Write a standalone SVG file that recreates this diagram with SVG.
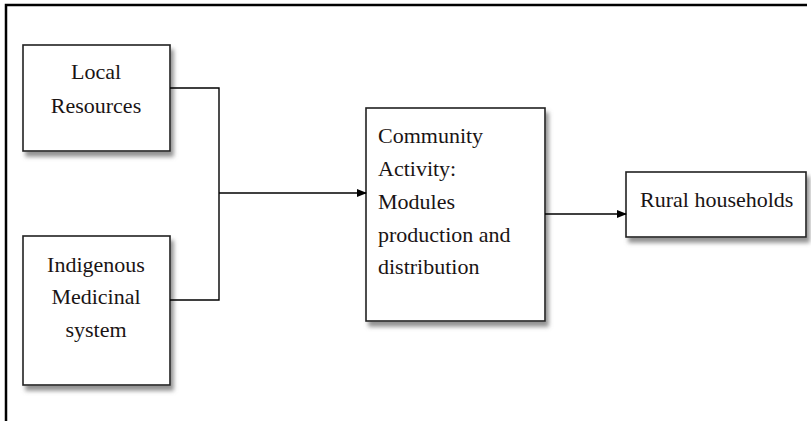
<svg xmlns="http://www.w3.org/2000/svg" width="811" height="421" viewBox="0 0 811 421">
<defs>
<filter id="sh" x="-10%" y="-10%" width="130%" height="130%">
<feDropShadow dx="3" dy="5" stdDeviation="2" flood-color="#777" flood-opacity="0.8"/>
</filter>
<marker id="ah" markerWidth="10" markerHeight="8" refX="9" refY="4" orient="auto" markerUnits="userSpaceOnUse">
<path d="M0,0 L10,4 L0,8 Z" fill="#000"/>
</marker>
</defs>
<style>
.box{fill:#fff;stroke:#222;stroke-width:1.6;filter:url(#sh)}
text{font-family:'Liberation Serif','Times New Roman','DejaVu Serif',serif;font-size:22px;fill:#1a1414}
.c{text-anchor:middle}
.ln{fill:none;stroke:#000;stroke-width:1.4}
</style>
<rect width="811" height="421" fill="#fff"/>
<path d="M6,421 V5 H807" fill="none" stroke="#000" stroke-width="2.5"/>
<g id="local">
<rect class="box" x="23" y="45" width="147" height="106"/>
<text class="c" x="96" y="79">Local</text>
<text class="c" x="96" y="113">Resources</text>
</g>
<g id="indigenous">
<rect class="box" x="23" y="236" width="147" height="149"/>
<text class="c" x="96" y="272">Indigenous</text>
<text class="c" x="96" y="304">Medicinal</text>
<text class="c" x="96" y="337">system</text>
</g>
<g id="community">
<rect class="box" x="366" y="108" width="179" height="213"/>
<text x="378" y="143">Community</text>
<text x="378" y="176">Activity:</text>
<text x="378" y="209">Modules</text>
<text x="378" y="242">production and</text>
<text x="378" y="274">distribution</text>
</g>
<g id="rural">
<rect class="box" x="626" y="172" width="180" height="65"/>
<text x="640" y="207">Rural households</text>
</g>
<g id="connectors">
<path class="ln" d="M170,88 H219 V300 H170"/>
<path class="ln" d="M219,193 H366" marker-end="url(#ah)"/>
<path class="ln" d="M545,214 H626" marker-end="url(#ah)"/>
</g>
</svg>
